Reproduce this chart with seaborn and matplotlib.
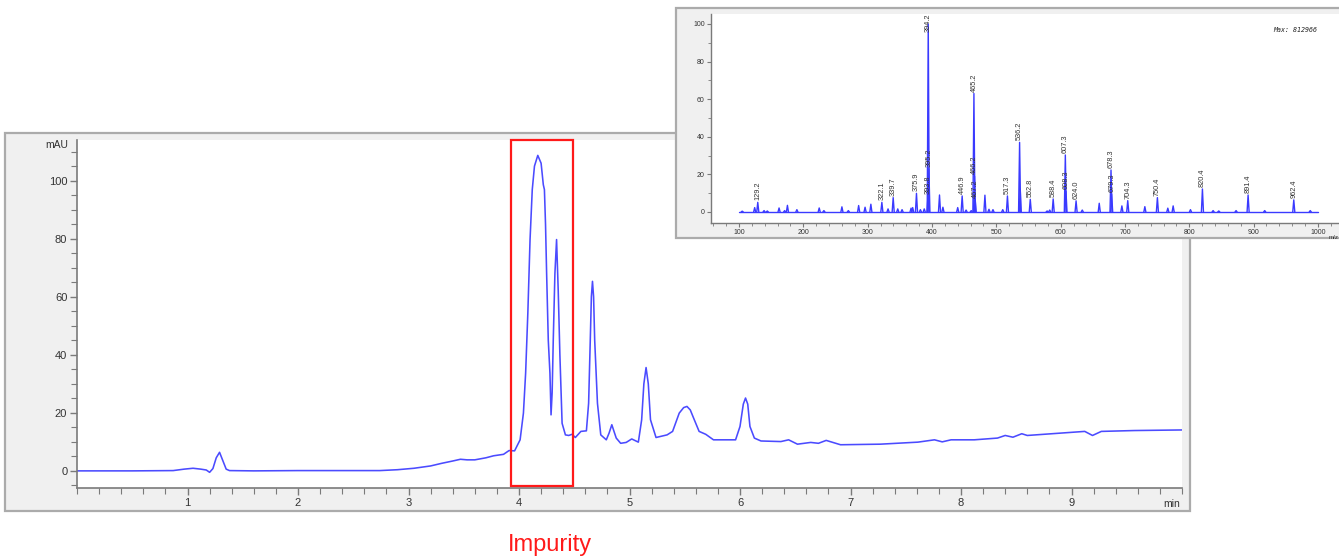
import numpy as np
import pandas as pd
import matplotlib
matplotlib.use("Agg")
import matplotlib.pyplot as plt
from matplotlib.patches import Rectangle
from matplotlib.ticker import MultipleLocator
import seaborn as sns

# ---------------- data ----------------
# Chromatogram (time in min, absorbance in mAU)
time_min = [0.00, 0.50, 0.87, 0.97, 1.05, 1.12, 1.17, 1.20, 1.23, 1.26, 1.29, 1.32, 1.35, 1.38,
            1.60, 2.00, 2.40, 2.74, 2.90, 3.05, 3.20, 3.30, 3.40, 3.47, 3.53, 3.60, 3.70, 3.77,
            3.86, 3.91, 3.96, 4.01, 4.04, 4.06, 4.08, 4.10, 4.12, 4.14, 4.17, 4.20, 4.22, 4.23,
            4.24, 4.25, 4.265, 4.28, 4.29, 4.30, 4.31, 4.325, 4.34, 4.355, 4.37, 4.39, 4.42,
            4.45, 4.48, 4.51, 4.56, 4.61, 4.63, 4.645, 4.655, 4.665, 4.675, 4.685, 4.71, 4.74,
            4.79, 4.815, 4.84, 4.865, 4.88, 4.92, 4.97, 5.02, 5.08, 5.11, 5.13, 5.15, 5.17,
            5.19, 5.24, 5.34, 5.39, 5.45, 5.49, 5.52, 5.55, 5.58, 5.63, 5.69, 5.76, 5.96,
            6.00, 6.03, 6.05, 6.07, 6.09, 6.13, 6.19, 6.37, 6.44, 6.52, 6.64, 6.71, 6.78,
            6.91, 7.27, 7.61, 7.76, 7.83, 7.91, 8.12, 8.33, 8.40, 8.47, 8.55, 8.60, 9.12,
            9.19, 9.27, 9.57, 10.00]
absorbance = [0.0, 0.0, 0.1, 0.6, 0.9, 0.6, 0.3, -0.5, 0.8, 4.5, 6.4, 3.5, 0.6, 0.1,
              0.0, 0.1, 0.1, 0.1, 0.4, 0.9, 1.7, 2.6, 3.4, 4.0, 3.8, 3.8, 4.5, 5.2,
              5.7, 7.0, 6.9, 10.7, 19.9, 33.7, 54.4, 79.7, 96.9, 105.0, 108.7, 106.0, 98.6, 96.9,
              85.0, 68.0, 45.0, 33.7, 19.3, 27.0, 45.0, 68.0, 79.7, 62.0, 40.0, 16.4, 12.4,
              12.2, 12.6, 11.5, 13.6, 13.8, 23.3, 45.0, 60.0, 65.3, 60.0, 45.0, 23.3, 12.4,
              10.7, 13.0, 15.9, 13.0, 11.3, 9.5, 9.8, 11.0, 9.9, 17.6, 30.0, 35.6, 30.0,
              17.6, 11.5, 12.4, 13.6, 19.9, 21.8, 22.2, 21.0, 18.2, 13.6, 12.6, 10.7, 10.7,
              15.3, 23.0, 25.1, 23.0, 15.3, 11.3, 10.3, 10.1, 10.7, 9.2, 9.8, 9.5, 10.5,
              9.0, 9.2, 9.9, 10.7, 10.0, 10.7, 10.7, 11.3, 12.2, 11.6, 12.8, 12.2, 13.6,
              12.2, 13.6, 13.9, 14.1]

x_ticks = [1, 2, 3, 4, 5, 6, 7, 8, 9]
y_ticks = [0, 20, 40, 60, 80, 100]

# Mass spectrum (m/z, relative intensity, label)
ms_mz = [105, 124.4, 129.2, 139, 144, 162.3, 171, 175.3, 190, 224.7, 232, 260, 270, 286, 296, 305,
         322.1, 331.7, 339.7, 346.8, 353.5, 367.5, 370, 375.9, 382, 388, 393.8, 394.2, 395.2,
         411.7, 417, 440, 446.9, 453, 461, 465.2, 466.2, 467.2, 482.3, 488.6, 494.8, 510,
         517.3, 536.2, 537.2, 552.8, 579, 583, 588.4, 607.3, 608.3, 624.0, 633.6, 660,
         678.3, 679.3, 695.2, 704.3, 730.9, 750.4, 766.6, 774.9, 801.8, 820.4, 837, 845.8,
         872.7, 891.4, 917.2, 962.4, 988]
ms_int = [0.4, 2.3, 5.1, 0.7, 0.5, 2.1, 0.7, 3.5, 1.2, 2.1, 0.7, 2.7, 0.7, 3.4, 2.5, 4.1,
          5.1, 1.6, 7.6, 1.6, 1.2, 2.0, 2.3, 9.9, 1.2, 1.6, 8.5, 100, 23,
          9.0, 2.5, 2.3, 8.5, 1.0, 0.7, 63, 19, 6.5, 8.9, 1.4, 1.2, 1.2,
          8.5, 37, 12, 6.7, 0.5, 1.0, 6.9, 30.3, 11, 5.9, 1.0, 4.6,
          22.3, 9.5, 3.2, 6.0, 2.8, 7.6, 2.0, 3.2, 1.2, 12.2, 0.7, 0.5,
          0.7, 9.0, 0.7, 6.4, 0.7]
ms_labels = ["", "", "129.2", "", "", "", "", "", "", "", "", "", "", "", "", "",
             "322.1", "", "339.7", "", "", "", "", "375.9", "", "", "393.8", "394.2", "395.2",
             "", "", "", "446.9", "", "", "465.2", "466.2", "467.2", "", "", "", "",
             "517.3", "536.2", "", "552.8", "", "", "588.4", "607.3", "608.3", "624.0", "", "",
             "678.3", "679.3", "", "704.3", "", "750.4", "", "", "", "820.4", "", "",
             "", "891.4", "", "962.4", ""]
ms_xticks = [100, 200, 300, 400, 500, 600, 700, 800, 900, 1000]
ms_yticks = [0, 20, 40, 60, 80, 100]

# ---------------- style ----------------
sns.set_style("white")
plt.rcParams['font.family'] = ['Liberation Sans', 'DejaVu Sans']

W, H = 1339, 560
fig = plt.figure(figsize=(W / 100, H / 100), dpi=100)
fig.patch.set_facecolor("white")

def fx(px):
    return px / W

def fy(py):
    return 1 - py / H

line_color = "#4b4bff"
text_col = "#333333"
spine_col = "#7a7a7a"

# main panel background
fig.add_artist(Rectangle((fx(5), fy(511)), fx(1190) - fx(5), fy(133) - fy(511),
                         transform=fig.transFigure, facecolor="#f0f0f0",
                         edgecolor="#ababab", lw=1.6, zorder=-5))

# ---------------- main chromatogram ----------------
ax = fig.add_axes([fx(77), fy(488), fx(1182) - fx(77), fy(140) - fy(488)])
ax.set_facecolor("white")
chrom = pd.DataFrame({"t": time_min, "mAU": absorbance})
sns.lineplot(data=chrom, x="t", y="mAU", ax=ax, color=line_color, lw=1.15,
             estimator=None, sort=False)
ax.set_xlim(0, 10.0)
ax.set_ylim(-5.9, 114)
ax.set_xlabel("")
ax.set_ylabel("")
for s in ["top", "right"]:
    ax.spines[s].set_visible(False)
for s in ["left", "bottom"]:
    ax.spines[s].set_color(spine_col)
    ax.spines[s].set_linewidth(1.2)
ax.set_xticks(x_ticks)
ax.set_xticklabels([str(v) for v in x_ticks])
ax.xaxis.set_minor_locator(MultipleLocator(0.2))
ax.set_yticks(y_ticks)
ax.yaxis.set_minor_locator(MultipleLocator(5))
ax.tick_params(axis="both", which="major", direction="out", length=5, width=1,
               color=spine_col, labelsize=8, labelcolor=text_col, pad=2)
ax.tick_params(axis="both", which="minor", direction="out", length=4, width=0.8,
               color=spine_col)
ax.tick_params(axis="x", which="both", bottom=True)
ax.tick_params(axis="y", which="both", left=True)
ax.text(-0.008, 0.985, "mAU", transform=ax.transAxes, ha="right", va="center",
        fontsize=7.5, color=text_col)
ax.text(0.991, -0.045, "min", transform=ax.transAxes, ha="center", va="center",
        fontsize=7.5, color=text_col, clip_on=False)

# red impurity box
ax.add_patch(Rectangle((3.93, -5.3), 4.49 - 3.93, 119.3, facecolor="none",
                       edgecolor="#ff1a1a", lw=1.6, clip_on=False, zorder=5))
fig.text(fx(550), fy(545), "Impurity", color="#ff1a1a", fontsize=17,
         ha="center", va="center")

# ---------------- inset mass spectrum ----------------
fig.add_artist(Rectangle((fx(676), fy(238)), 0.6, fy(8) - fy(238),
                         transform=fig.transFigure, facecolor="#f0f0f0",
                         edgecolor="#ababab", lw=1.6, zorder=1))
ax2 = fig.add_axes([fx(711), fy(223), fx(1339) - fx(711), fy(14) - fy(223)])
ax2.set_zorder(2)
ax2.set_facecolor("white")

# build spectrum profile table from the peak list
rows = [{"mz": 100.0, "I": 0.0, "pk": -1}, {"mz": 1000.0, "I": 0.0, "pk": -1}]
for i, (m, h) in enumerate(zip(ms_mz, ms_int)):
    rows += [{"mz": m - 1.6, "I": 0.0, "pk": i},
             {"mz": m, "I": h, "pk": i},
             {"mz": m + 1.6, "I": 0.0, "pk": i}]
spec = pd.DataFrame(rows)
sns.lineplot(data=spec, x="mz", y="I", units="pk", estimator=None, sort=False,
             ax=ax2, color="#3a3aff", lw=1.0)
ax2.set_xlim(56.5, 1032.7)
ax2.set_ylim(-5.9, 105.3)
ax2.set_xlabel("")
ax2.set_ylabel("")
for s in ["top", "right"]:
    ax2.spines[s].set_visible(False)
for s in ["left", "bottom"]:
    ax2.spines[s].set_color(spine_col)
    ax2.spines[s].set_linewidth(1.0)
ax2.set_xticks(ms_xticks)
ax2.xaxis.set_minor_locator(MultipleLocator(20))
ax2.set_yticks(ms_yticks)
ax2.yaxis.set_minor_locator(MultipleLocator(10))
ax2.tick_params(axis="both", which="major", direction="out", length=3, width=0.8,
                color=spine_col, labelsize=5, labelcolor=text_col, pad=1.5)
ax2.tick_params(axis="both", which="minor", direction="out", length=2.5, width=0.6,
                color=spine_col)
ax2.tick_params(axis="x", which="both", bottom=True)
ax2.tick_params(axis="y", which="both", left=True)

for m, h, lab in zip(ms_mz, ms_int, ms_labels):
    if lab:
        ax2.text(m, min(h + 1.0, 95.5), lab, rotation=90, ha="center", va="bottom",
                 fontsize=5.3, color=text_col, zorder=4)

ax2.text(0.895, 0.925, "Max: 812966", transform=ax2.transAxes, ha="left", va="center",
         fontsize=4.8, family="DejaVu Sans Mono", style="italic", color="#222222")
ax2.text(0.999, -0.07, "m/z", transform=ax2.transAxes, ha="right", va="center",
         fontsize=4.5, color=text_col, clip_on=False)

fig.savefig("out.png", dpi=100)
